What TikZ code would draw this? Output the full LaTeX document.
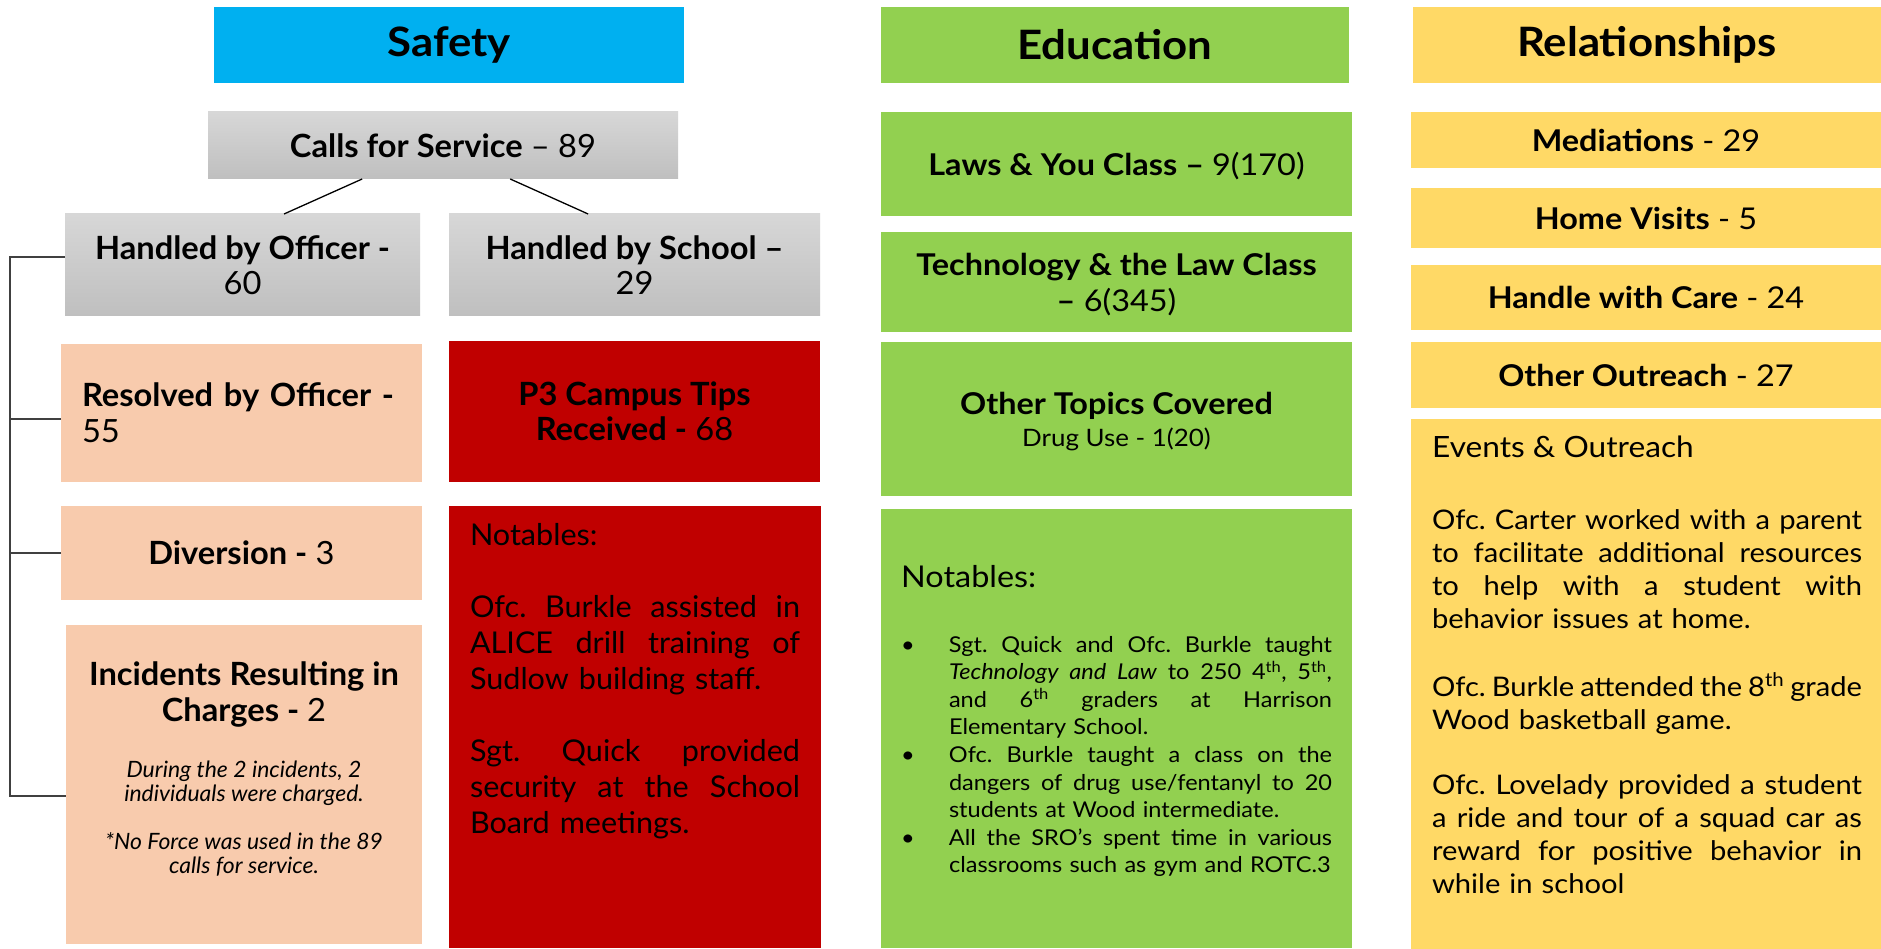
\documentclass[tikz,border=0pt]{standalone}
\usepackage{fontspec}
\setmainfont{Lato}[FakeStretch=1.08]
\newfontfamily\cond{Lato}[FakeStretch=1.02]
\usetikzlibrary{calc}
\definecolor{cblue}{HTML}{00B0F0}
\definecolor{cgreen}{HTML}{92D050}
\definecolor{cyellow}{HTML}{FFD966}
\definecolor{cpeach}{HTML}{F8CBAD}
\definecolor{cred}{HTML}{C00000}
\definecolor{gtop}{HTML}{D7D7D7}
\definecolor{gbot}{HTML}{BFBFBF}
\definecolor{brkcol}{HTML}{404040}
\newcommand{\jline}[1]{\makebox[\hsize][s]{\spaceskip=\fontdimen2\font plus 1fil minus 0.12em\xspaceskip=\spaceskip #1}}
\newcommand{\fsz}[2]{\fontsize{#1}{#2}\selectfont}
\newcommand{\bul}{\strut\llap{\makebox[48pt][l]{\textbullet}}}
\frenchspacing
\begin{document}
\begin{tikzpicture}[x=1pt,y=-1pt,
  box/.style={inner sep=0pt,outer sep=0pt,draw=none,align=center},
  hdr/.style={box,font=\fsz{40.5}{46}\bfseries},
  graybox/.style={box,top color=gtop,bottom color=gbot,font=\cond\fsz{32}{35}},
  peachbox/.style={box,fill=cpeach,font=\cond\fsz{32}{36}},
  redbox/.style={box,fill=cred,font=\cond\fsz{32}{35}},
  greenbox/.style={box,fill=cgreen,font=\fsz{30}{36}},
  yelbox/.style={box,fill=cyellow,font=\fsz{30}{35}},
  para/.style={inner sep=0pt,outer sep=0pt,align=left},
  conn/.style={draw=black,line width=1.3pt},
  brk/.style={draw=brkcol,line width=1.5pt}
]
\fill[white] (0,0) rectangle (1881,949);
\useasboundingbox (0,0) rectangle (1881,949);

% ---------------- Safety column ----------------
\node[hdr,fill=cblue,minimum width=470pt,minimum height=76pt] (safety) at (449,45) {Safety};
\node[graybox,minimum width=470pt,minimum height=67pt] (calls) at (443,145.5) {\textbf{Calls for Service} – 89};
\node[graybox,minimum width=355pt,minimum height=102pt] (off) at (242.5,265) {\textbf{Handled by Officer -}\\60};
\node[graybox,minimum width=371pt,minimum height=102pt] (sch) at (634.5,265) {\textbf{Handled by School –}\\29};
\node[peachbox,minimum width=361pt,minimum height=138pt,text width=319pt,align=left] (res) at (241.5,413) {\textbf{Resolved by Officer -}\\55};
\node[redbox,minimum width=371pt,minimum height=141pt] (p3) at (634.5,411.5) {\textbf{P3 Campus Tips}\\\textbf{Received -} 68};
\node[peachbox,minimum width=361pt,minimum height=94pt] (div) at (241.5,553) {\textbf{Diversion -} 3};
\node[peachbox,minimum width=356pt,minimum height=319pt] (inc) at (244,784.5) {};
\node[redbox,minimum width=372pt,minimum height=442pt] (rnot) at (635,727) {};

\node[inner sep=0pt,align=center,font=\cond\fsz{32}{36}\bfseries] (inct) at (244,694) {Incidents Resulting in\\Charges - {\mdseries 2}};
\node[inner sep=0pt,align=center,font=\cond\fsz{22.5}{24}\itshape] (incn) at (244,819) {During the 2 incidents, 2\\individuals were charged.\\[24pt]*No Force was used in the 89\\calls for service.};

\node[para,anchor=north west,text width=330pt,font=\cond\fsz{30}{36}] (rnott) at (470,519.8) {\strut Notables:\\[36pt]
\jline{Ofc. Burkle assisted in}\\
\jline{ALICE drill training of}\\
Sudlow building staff.\\[36pt]
\jline{Sgt. Quick provided}\\
\jline{security at the School}\\
Board meetings.};

\draw[conn] ($(calls.south west)!0.328!(calls.south east)$) -- ($(off.north west)!0.617!(off.north east)$);
\draw[conn] ($(calls.south west)!0.643!(calls.south east)$) -- ($(sch.north west)!0.375!(sch.north east)$);

\coordinate (b1) at (10,257);
\coordinate (b2) at (10,419);
\coordinate (b3) at (10,553);
\coordinate (b4) at (10,796);
\draw[brk] (off.west |- b1) -- (b1) -- (b4) -- (inc.west |- b4);
\draw[brk] (res.west |- b2) -- (b2);
\draw[brk] (div.west |- b3) -- (b3);

% ---------------- Education column ----------------
\node[hdr,fill=cgreen,minimum width=468pt,minimum height=76pt] (edu) at (1115,45) {Education};
\node[greenbox,minimum width=471pt,minimum height=104pt,text depth=0pt] (laws) at (1116.5,164) {\textbf{Laws \& You Class –} 9(170)};
\node[greenbox,minimum width=471pt,minimum height=100pt,text depth=0pt] (tech) at (1116.5,282.5) {\textbf{Technology \& the Law Class}\\\textbf{–} 6(345)};
\node[greenbox,minimum width=471pt,minimum height=153pt,text depth=0pt] (oth) at (1116.5,419) {\textbf{Other Topics Covered}\\[-4pt]{\fsz{24}{31}Drug Use - 1(20)}};
\node[greenbox,minimum width=471pt,minimum height=439pt] (gnot) at (1116.5,728.5) {};

\node[inner sep=0pt,anchor=base west,font=\fsz{30}{36}] (gnott) at (901,587) {Notables:};
\node[para,anchor=north west,text width=383pt,font=\fsz{21.8}{27.6}] (glist) at (949,632.7) {\bul\jline{Sgt. Quick and Ofc. Burkle taught}\\
\jline{\textit{Technology and Law} to 250 4\textsuperscript{th}, 5\textsuperscript{th},}\\
\jline{and 6\textsuperscript{th} graders at Harrison}\\
Elementary School.\\
\bul\jline{Ofc. Burkle taught a class on the}\\
\jline{dangers of drug use/fentanyl to 20}\\
students at Wood intermediate.\\
\bul\jline{All the SRO’s spent time in various}\\
classrooms such as gym and ROTC.3};

% ---------------- Relationships column ----------------
\node[hdr,fill=cyellow,minimum width=468pt,minimum height=76pt] (rel) at (1647,45) {Relationships};
\node[yelbox,minimum width=470pt,minimum height=56pt] (med) at (1646,140) {\textbf{Mediations} - 29};
\node[yelbox,minimum width=470pt,minimum height=60pt] (home) at (1646,218) {\textbf{Home Visits} - 5};
\node[yelbox,minimum width=470pt,minimum height=65pt] (care) at (1646,297.5) {\textbf{Handle with Care} - 24};
\node[yelbox,minimum width=470pt,minimum height=66pt] (outr) at (1646,375) {\textbf{Other Outreach} - 27};
\node[yelbox,minimum width=470pt,minimum height=530pt] (ev) at (1646,684) {};

\node[inner sep=0pt,anchor=base west,font=\fsz{29.3}{34}] (evt) at (1432,457) {Events \& Outreach};
\node[para,anchor=north west,text width=430pt,font=\fsz{27}{33}] (ev1) at (1432,505.9) {\strut\jline{Ofc. Carter worked with a parent}\\
\jline{to facilitate additional resources}\\
\jline{to help with a student with}\\
behavior issues at home.};
\node[para,anchor=north west,text width=430pt,font=\fsz{27}{33}] (ev2) at (1432,672.9) {\strut\jline{Ofc. Burkle attended the 8\textsuperscript{th} grade}\\
Wood basketball game.};
\node[para,anchor=north west,text width=430pt,font=\fsz{27}{33}] (ev3) at (1432,770.9) {\strut\jline{Ofc. Lovelady provided a student}\\
\jline{a ride and tour of a squad car as}\\
\jline{reward for positive behavior in}\\
while in school};
\end{tikzpicture}
\end{document}
